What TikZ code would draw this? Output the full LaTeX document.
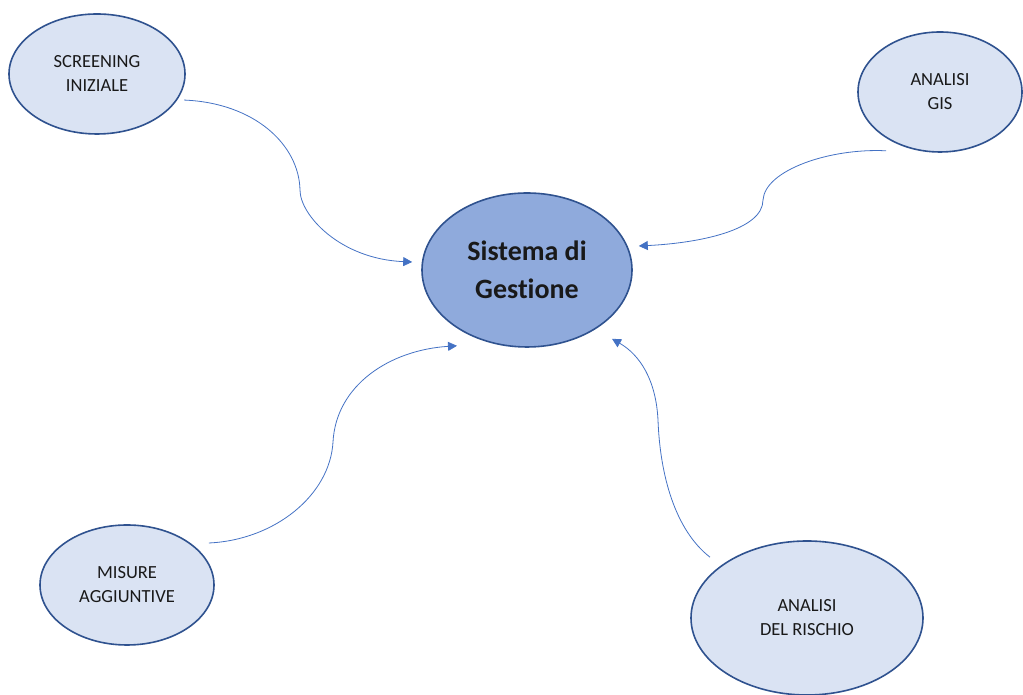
\documentclass[tikz,border=0pt]{standalone}
\usepackage{fontspec}
\setmainfont{Carlito}[Ligatures={NoCommon,NoDiscretionary,NoRare}]
\usetikzlibrary{arrows.meta, shapes.geometric}
\definecolor{cedge}{HTML}{2F528F}
\definecolor{cpale}{HTML}{DAE3F3}
\definecolor{chub}{HTML}{8FAADC}
\definecolor{cline}{HTML}{4472C4}
\tikzset{
  bubble/.style={ellipse, draw=cedge, fill=cpale, line width=1.6pt, inner sep=0pt, align=center, text=black!90,
    font=\fontsize{18.5}{24}\selectfont},
  hub/.style={ellipse, draw=cedge, fill=chub, line width=1.6pt, inner sep=0pt, align=center, text=black!90,
    font=\fontsize{28}{38}\selectfont\bfseries, minimum width=210pt, minimum height=154pt},
  link/.style={-{Triangle[length=9pt, width=9pt]}, draw=cline, fill=none, line width=0.8pt},
}

\begin{document}
\begin{tikzpicture}[x=1pt, y=1pt]
  \useasboundingbox (0,0) rectangle (1023,695);
  % centre
  \node[hub] (sis) at (527,425) {Sistema di\\Gestione};
  % outer bubbles
  \node[bubble, minimum width=176pt, minimum height=120pt] (scr) at (97,621) {SCREENING\\INIZIALE};
  \node[bubble, minimum width=164pt, minimum height=120pt] (gis) at (940,603) {ANALISI\\GIS};
  \node[bubble, minimum width=174pt, minimum height=120pt] (mis) at (127,110) {MISURE\\AGGIUNTIVE};
  \node[bubble, minimum width=232pt, minimum height=154pt] (ris) at (807,77) {ANALISI\\DEL RISCHIO};
  % connectors
  \draw[link] ([xshift=7pt]scr.-18) .. controls (255,592) and (299,550) .. (300,505)
    .. controls (300,480) and (340,436) .. ([xshift=-9pt, yshift=8pt]sis.west);
  \draw[link] ([xshift=-54pt, yshift=2pt]gis.south) .. controls (830,547) and (765,525) .. (763,495)
    .. controls (763,465) and (700,452) .. ([xshift=6pt, yshift=24pt]sis.east);
  \draw[link] ([xshift=-6pt, yshift=42pt]mis.east) .. controls (275,155) and (330,200) .. (333,253)
    .. controls (336,310) and (390,345) .. ([xshift=-70pt, yshift=2pt]sis.south);
  \draw[link] ([xshift=-97pt, yshift=-17pt]ris.north) .. controls (675,165) and (660,220) .. (658,275)
    .. controls (656,315) and (640,340) .. ([xshift=85pt, yshift=9pt]sis.south);
\end{tikzpicture}
\end{document}
